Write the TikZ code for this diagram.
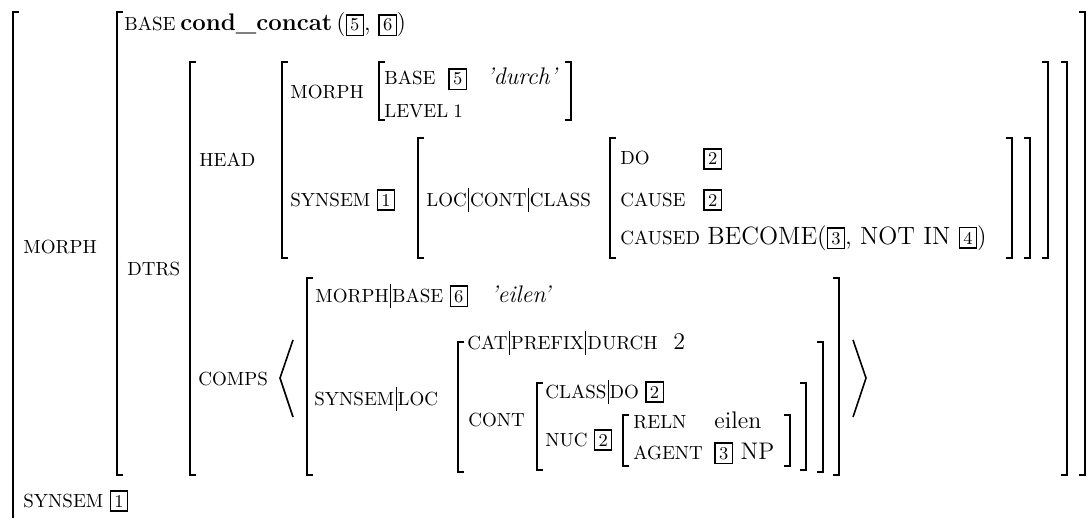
\documentclass[tikz,border=0pt]{standalone}
\newcommand\bx[1]{{\setlength\fboxsep{1.7pt}\setlength\fboxrule{0.6pt}\fbox{\fontsize{9}{9}\selectfont\upshape #1}}}
\newcommand\pbar{\kern0.6pt\rule[-2.8pt]{0.45pt}{12pt}\kern0.6pt}
\newcommand\avmL[3]{\draw[br] (#1+6,#2) -- (#1,#2) -- (#1,#3) -- (#1+6,#3);}
\newcommand\avmR[3]{\draw[br] (#1-6,#2) -- (#1,#2) -- (#1,#3) -- (#1-6,#3);}
\tikzset{
  lab/.style={anchor=base west, inner sep=0pt, font=\fontsize{9.5}{11}\selectfont},
  val/.style={anchor=base west, inner sep=0pt, font=\fontsize{12}{14}\selectfont},
  br/.style={line width=0.9pt},
  ang/.style={line width=0.8pt},
}
\begin{document}
\begin{tikzpicture}[x=0.5pt,y=-0.5pt]
\fill[white] (0,0) rectangle (1091,518);
\useasboundingbox (0,0) rectangle (1091,518);
% outer
\draw[br] (19,12) -- (13,12) -- (13,518);
\node[lab] (morphO) at (23,254) {MORPH};
\node[lab] (synsemO) at (23,507) {SYNSEM \bx{1}};
% MORPH value
\avmL{117}{12}{475} \avmR{1085}{12}{475}
\node[lab] (base0) at (124,31) {BASE};
\node[val] (cc) at (180,31) {\textbf{cond\_concat}\,(\bx{5}, \bx{6})};
\node[lab] (dtrs) at (127,275) {DTRS};
% DTRS value
\avmL{190}{62}{475} \avmR{1067}{62}{475}
\node[lab] (head) at (199,167) {HEAD};
\node[lab] (comps) at (198,385) {COMPS};
% HEAD value
\avmL{282}{62}{258} \avmR{1048}{62}{258}
\node[lab] (morphH) at (290,99) {MORPH};
\avmL{379}{62}{120} \avmR{571}{62}{120}
\node[lab] (baseH) at (384,85) {BASE};
\node[val] (b5) at (448,85) {\bx{5}};
\node[val] (durch) at (486,85) {\textit{'durch'}};
\node[lab] (level) at (384,118) {LEVEL};
\node[lab] (one) at (453,118) {1};
\node[lab] (synsemH) at (290,206) {SYNSEM \bx{1}};
\avmL{418}{138}{258} \avmR{1030}{138}{258}
\node[lab] (lcc) at (426,206) {LOC\pbar CONT\pbar CLASS};
\avmL{610}{138}{258} \avmR{1012}{138}{258}
\node[lab] (do) at (620,165) {DO};
\node[val] (do2) at (703,165) {\bx{2}};
\node[lab] (cause) at (620,206) {CAUSE};
\node[val] (cause2) at (703,206) {\bx{2}};
\node[lab] (caused) at (620,244) {CAUSED};
\node[val,font=\fontsize{12.5}{14}\selectfont] (become) at (707,244) {BECOME(\bx{3}, NOT IN \bx{4})};
% COMPS
\draw[ang] (293,340) -- (280,378) -- (293,417);
\avmL{307}{278}{475} \avmR{839}{278}{475}
\node[lab] (mb) at (315,302) {MORPH\pbar BASE \bx{6}};
\node[val] (eilen1) at (490,302) {\textit{'eilen'}};
\node[lab] (sl) at (314,405) {SYNSEM\pbar LOC};
\avmL{458}{342}{472} \avmR{823}{342}{472}
\node[lab] (cpd) at (467,349) {CAT\pbar PREFIX\pbar DURCH};
\node[val] (two) at (673,349) {2};
\node[lab] (cont) at (468,426) {CONT};
\avmL{537}{383}{470} \avmR{806}{383}{470}
\node[lab] (cd) at (545,398) {CLASS\pbar DO \bx{2}};
\node[lab] (nuc) at (545,446) {NUC \bx{2}};
\avmL{623}{415}{466} \avmR{790}{415}{466}
\node[lab] (reln) at (633,428) {RELN};
\node[val] (eilen2) at (714,428) {eilen};
\node[lab] (agent) at (633,459) {AGENT};
\node[val] (agent3) at (714,459) {\bx{3} NP};
\draw[ang] (853,340) -- (866,378) -- (853,417);
\end{tikzpicture}
\end{document}
